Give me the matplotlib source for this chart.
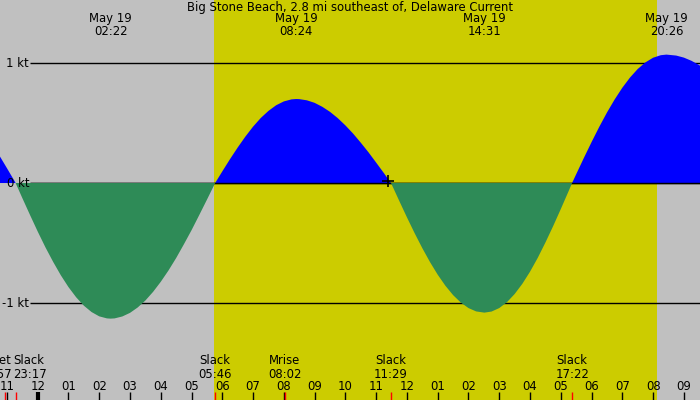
import matplotlib
matplotlib.use("Agg")
import matplotlib.pyplot as plt
import numpy as np

## Data: hours after midnight May 19, current speed in knots
t_hours = [-1.5, -1.25, -1.0, -0.75, -0.717, -0.5, -0.25, 0.0, 0.25, 0.5, 0.75,
           1.0, 1.25, 1.5, 1.75, 2.0, 2.25, 2.367, 2.5, 2.75, 3.0, 3.25, 3.5, 3.75,
           4.0, 4.25, 4.5, 4.75, 5.0, 5.25, 5.5, 5.75, 5.767, 6.0, 6.25, 6.5, 6.75,
           7.0, 7.25, 7.5, 7.75, 8.0, 8.25, 8.4, 8.5, 8.75, 9.0, 9.25, 9.5, 9.75,
           10.0, 10.25, 10.5, 10.75, 11.0, 11.25, 11.483, 11.75, 12.0, 12.25, 12.5,
           12.75, 13.0, 13.25, 13.5, 13.75, 14.0, 14.25, 14.517, 14.75, 15.0, 15.25,
           15.5, 15.75, 16.0, 16.25, 16.5, 16.75, 17.0, 17.25, 17.367, 17.5, 17.75,
           18.0, 18.25, 18.5, 18.75, 19.0, 19.25, 19.5, 19.75, 20.0, 20.25, 20.433,
           20.75, 21.0, 21.25, 21.5, 21.75, 22.0]
speed_kt = [0.335, 0.231, 0.124, 0.015, 0.0, -0.125, -0.266, -0.404, -0.535, -0.656,
            -0.768, -0.867, -0.952, -1.022, -1.075, -1.111, -1.128, -1.130, -1.128,
            -1.112, -1.082, -1.037, -0.979, -0.907, -0.823, -0.729, -0.625, -0.511,
            -0.393, -0.267, -0.139, -0.009, 0.0, 0.097, 0.199, 0.296, 0.387, 0.470,
            0.542, 0.601, 0.648, 0.680, 0.697, 0.700, 0.699, 0.689, 0.668, 0.635,
            0.593, 0.541, 0.480, 0.412, 0.336, 0.256, 0.170, 0.083, 0.0, -0.149,
            -0.286, -0.418, -0.543, -0.659, -0.764, -0.856, -0.934, -0.996, -1.042,
            -1.070, -1.080, -1.071, -1.042, -0.993, -0.925, -0.840, -0.739, -0.624,
            -0.496, -0.360, -0.217, -0.070, 0.0, 0.073, 0.209, 0.341, 0.468, 0.587,
            0.696, 0.794, 0.879, 0.950, 1.005, 1.044, 1.065, 1.070, 1.062, 1.045,
            1.018, 0.982, 0.937, 0.883]

peak_hours = [2.367, 8.4, 14.517, 20.433]
peak_labels = ["May 19\n02:22", "May 19\n08:24", "May 19\n14:31", "May 19\n20:26"]

event_hours = [-1.05, -0.717, 5.767, 8.033, 11.483, 17.367]
event_labels = ["Mset\n22:57", "Slack\n23:17", "Slack\n05:46", "Mrise\n08:02",
                "Slack\n11:29", "Slack\n17:22"]

hour_ticks = list(range(-1, 22))
hour_labels = ["11", "12", "01", "02", "03", "04", "05", "06", "07", "08", "09", "10",
               "11", "12", "01", "02", "03", "04", "05", "06", "07", "08", "09"]

sunrise = 5.73
sunset = 20.13
now_hour, now_kt = 11.385, 0.02

kt_levels = [1, 0, -1]
kt_labels = ["1 kt", "0 kt", "-1 kt"]

title = "Big Stone Beach, 2.8 mi southeast of, Delaware Current"
fs = 8.4

## Figure
fig = plt.figure(figsize=(7, 4), dpi=100)
ax = fig.add_axes([0, 0, 1, 1])
ax.set_xlim(-1.225, 21.524)
ax.set_ylim(-1.808, 1.525)
ax.axis("off")
fig.patch.set_facecolor("#c0c0c0")
ax.axvspan(sunrise, sunset, color="#cccc00", zorder=0.5, lw=0)

t = np.array(t_hours)
v = np.array(speed_kt)

x_start = -1.225 + 30 / 30.77
for lvl, lab in zip(kt_levels, kt_labels):
    ax.hlines(lvl, x_start, 21.524, color="black", lw=1, zorder=1)
    ax.text(x_start - 0.03, lvl, lab, ha="right", va="center", fontsize=fs, zorder=5)

ax.fill_between(t, v, 0, where=v >= 0, interpolate=True, color="#0000ff", lw=0, zorder=2)
ax.hlines(0, x_start, 21.524, color="black", lw=1, zorder=2.5)
ax.fill_between(t, v, 0, where=v <= 0, interpolate=True, color="#2e8b57", lw=0, zorder=3)
ax.plot([now_hour], [now_kt], marker="+", color="black", ms=9, mew=1.2, zorder=6)

tr = ax.get_xaxis_transform()

## Title and peak labels
ax.text(0.5, 1 - 8 / 400, title, transform=ax.transAxes, ha="center", va="center",
        fontsize=fs)
for h, lab in zip(peak_hours, peak_labels):
    ax.text(h, 1 - 25 / 400, lab, transform=tr, ha="center", va="center",
            fontsize=fs, linespacing=1.0)

## Hour ticks
for h, lab in zip(hour_ticks, hour_labels):
    lw = 3 if h == 0 else 1
    ax.vlines(h, 0, 8 / 400, transform=tr, color="black", lw=lw, zorder=4)
    ax.text(h, 1 - 386.5 / 400, lab, transform=tr, ha="center", va="center", fontsize=fs)

## Events
for i, (h, lab) in enumerate(zip(event_hours, event_labels)):
    ax.vlines(h, 0, 8 / 400, transform=tr, color="red", lw=1, zorder=4)
    if i == 0:
        xt, ha = -0.835, "right"
    elif i == 1:
        xt, ha = -0.803, "left"
    else:
        xt, ha = h, "center"
    ax.text(xt, 1 - 367.5 / 400, lab, transform=tr, ha=ha, va="center",
            fontsize=fs, linespacing=1.0)

fig.savefig("out.png", dpi=100, facecolor=fig.get_facecolor())
